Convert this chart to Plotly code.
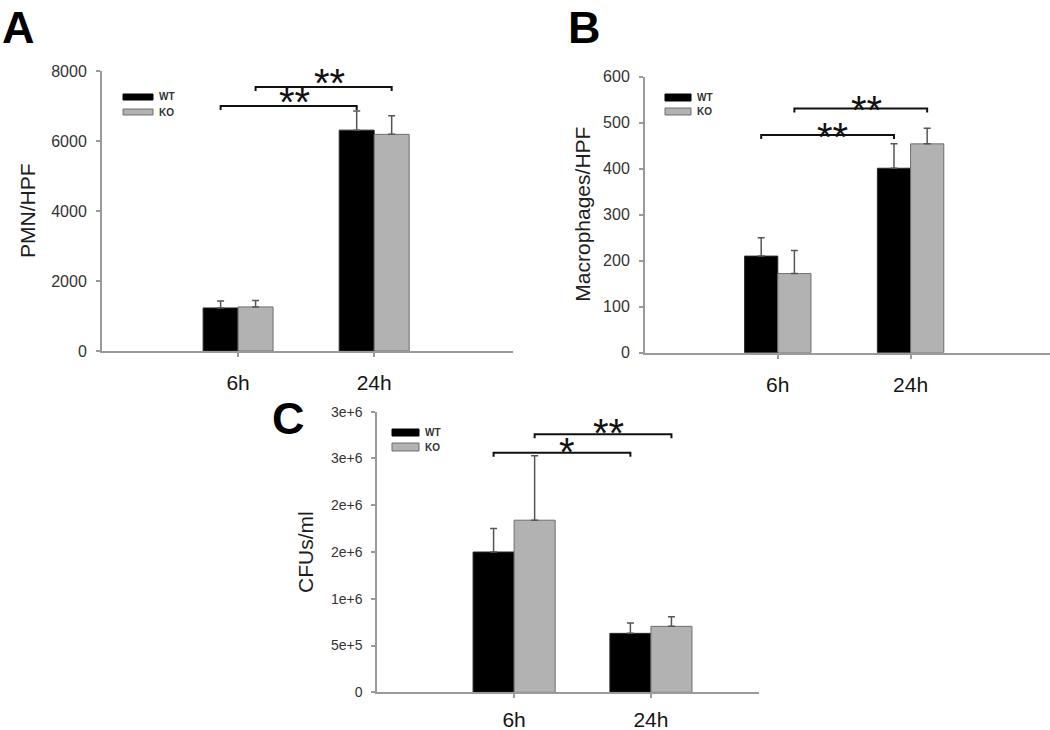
import plotly.graph_objects as go

W, H = 1050, 730

# ---------------- data ----------------
categories = ["6h", "24h"]
cat_pos = [1, 2]
series_names = ["WT", "KO"]

pmn_wt = [1230, 6310]
pmn_wt_sem = [200, 550]
pmn_ko = [1260, 6190]
pmn_ko_sem = [180, 530]

mac_wt = [210, 401]
mac_wt_sem = [40, 53]
mac_ko = [172, 454]
mac_ko_sem = [50, 34]

cfu_wt = [1.50e6, 6.3e5]
cfu_wt_sem = [2.5e5, 1.1e5]
cfu_ko = [1.84e6, 7.05e5]
cfu_ko_sem = [6.9e5, 1.03e5]

pmn_ticks = [0, 2000, 4000, 6000, 8000]
mac_ticks = [0, 100, 200, 300, 400, 500, 600]
cfu_tickvals = [0, 5e5, 1e6, 1.5e6, 2e6, 2.5e6, 3e6]
cfu_ticktext = ["0", "5e+5", "1e+6", "2e+6", "2e+6", "3e+6", "3e+6"]

# significance brackets: (from category idx, to category idx, series, height, label)
pmn_sig = [(0, 1, "WT", 7000, "**"), (0, 1, "KO", 7540, "**")]
mac_sig = [(0, 1, "WT", 473, "**"), (0, 1, "KO", 531, "**")]
cfu_sig = [(0, 1, "WT", 2.56e6, "*"), (0, 1, "KO", 2.76e6, "**")]

# ---------------- style / layout ----------------
FONT = "Liberation Sans, Arial, sans-serif"
WT_COLOR = "#000000"
KO_COLOR = "#b2b2b2"
AXIS_COLOR = "#9a9a9a"


def fx(px):
    return px / W


def fy(py):
    return 1 - py / H


panels = [
    dict(letter="A", xa="x", ya="y", xid="xaxis", yid="yaxis",
         xdom=(102, 513), ydom=(351, 71), xmax=3.02, ymax=8000,
         wt=pmn_wt, wt_sem=pmn_wt_sem, ko=pmn_ko, ko_sem=pmn_ko_sem,
         ticks=pmn_ticks, ticktext=None, tickfont=16, bw=0.257, xstand=8,
         title="PMN/HPF", title_x=28, title_size=21,
         letter_xy=(18, None), legend=(123, 153, 94, 100, 109, 115),
         sig=pmn_sig, star_shift=-20),
    dict(letter="B", xa="x2", ya="y2", xid="xaxis2", yid="yaxis2",
         xdom=(645, 1050), ydom=(352.7, 76.7), xmax=3.05, ymax=600,
         wt=mac_wt, wt_sem=mac_wt_sem, ko=mac_ko, ko_sem=mac_ko_sem,
         ticks=mac_ticks, ticktext=None, tickfont=16, bw=0.25, xstand=8,
         title="Macrophages/HPF", title_x=583, title_size=21,
         letter_xy=(584, 28), legend=(665, 691, 94, 101, 108, 115),
         sig=mac_sig, star_shift=-26),
    dict(letter="C", xa="x3", ya="y3", xid="xaxis3", yid="yaxis3",
         xdom=(377.3, 759), ydom=(692.3, 411.7), xmax=2.79, ymax=3e6,
         wt=cfu_wt, wt_sem=cfu_wt_sem, ko=cfu_ko, ko_sem=cfu_ko_sem,
         ticks=cfu_tickvals, ticktext=cfu_ticktext, tickfont=14, bw=0.30, xstand=3,
         title="CFUs/ml", title_x=305, title_size=21,
         letter_xy=(288, 418), legend=(392, 419, 429, 436, 443, 451),
         sig=cfu_sig, star_shift=-23),
]

fig = go.Figure()
shapes = []
annotations = []
layout = {}

for p in panels:
    bw = p["bw"]
    err_style = dict(type="data", symmetric=False, color="#555555",
                     thickness=1.5, width=3.5)
    fig.add_trace(go.Bar(
        x=cat_pos, y=p["wt"], width=bw, offset=-bw, name=series_names[0],
        marker=dict(color=WT_COLOR, line=dict(color="#2a2a2a", width=1)),
        error_y=dict(array=p["wt_sem"], arrayminus=[0] * len(p["wt"]), **err_style),
        xaxis=p["xa"], yaxis=p["ya"], showlegend=False))
    fig.add_trace(go.Bar(
        x=cat_pos, y=p["ko"], width=bw, offset=0, name=series_names[1],
        marker=dict(color=KO_COLOR, line=dict(color="#6e6e6e", width=1)),
        error_y=dict(array=p["ko_sem"], arrayminus=[0] * len(p["ko"]), **err_style),
        xaxis=p["xa"], yaxis=p["ya"], showlegend=False))

    x0, x1 = p["xdom"]
    yb, yt = p["ydom"]
    layout[p["xid"]] = dict(
        domain=[fx(x0), min(fx(x1), 1.0)], range=[0, p["xmax"]], anchor=p["ya"],
        automargin=False,
        showline=True, linecolor=AXIS_COLOR, linewidth=2,
        ticks="outside", ticklen=4, tickcolor=AXIS_COLOR, tickwidth=1.5,
        tickvals=cat_pos, ticktext=categories, ticklabelstandoff=p["xstand"],
        tickfont=dict(family=FONT, size=21, color="#151515"),
        showgrid=False, zeroline=False, fixedrange=True)
    yax = dict(
        domain=[fy(yb), fy(yt)], range=[0, p["ymax"]], anchor=p["xa"],
        automargin=False,
        showline=True, linecolor=AXIS_COLOR, linewidth=2,
        ticks="outside", ticklen=4, tickcolor=AXIS_COLOR, tickwidth=1.5,
        tickvals=p["ticks"], ticklabelstandoff=6,
        tickfont=dict(family=FONT, size=p["tickfont"], color="#333333"),
        showgrid=False, zeroline=False, fixedrange=True)
    if p["ticktext"] is not None:
        yax["ticktext"] = p["ticktext"]
    layout[p["yid"]] = yax

    # y-axis title
    annotations.append(dict(
        text=p["title"], textangle=-90, xref="paper", yref="paper",
        x=fx(p["title_x"]), y=fy((yb + yt) / 2), xanchor="center", yanchor="middle",
        showarrow=False, font=dict(family=FONT, size=p["title_size"], color="#1e1e1e")))
    # panel letter
    lx, ly = p["letter_xy"]
    letter = dict(
        text="<b>%s</b>" % p["letter"], xref="paper", yref="paper",
        x=fx(lx), xanchor="center", showarrow=False,
        font=dict(family=FONT, size=45, color="#000000"))
    if ly is None:
        letter.update(y=1, yanchor="top")
    else:
        letter.update(y=fy(ly), yanchor="middle")
    annotations.append(letter)

    # legend swatches
    sx0, sx1, wy0, wy1, ky0, ky1 = p["legend"]
    for (c, lc, ya0, ya1, name) in [(WT_COLOR, "#000000", wy0, wy1, series_names[0]),
                                     (KO_COLOR, "#6e6e6e", ky0, ky1, series_names[1])]:
        shapes.append(dict(type="rect", xref="paper", yref="paper",
                           x0=fx(sx0), x1=fx(sx1), y0=fy(ya1), y1=fy(ya0),
                           fillcolor=c, line=dict(color=lc, width=1)))
        annotations.append(dict(
            text="<b>%s</b>" % name, xref="paper", yref="paper",
            x=fx(sx1 + 4), y=fy((ya0 + ya1) / 2), xanchor="left", yanchor="middle",
            showarrow=False, font=dict(family=FONT, size=10, color="#333333")))

    # significance brackets
    px_per_unit = (yb - yt) / p["ymax"]
    tick = 4 / px_per_unit
    for (ci, cj, ser, yv, lab) in p["sig"]:
        off = -bw / 2 if ser == "WT" else bw / 2
        xa_ = cat_pos[ci] + off
        xb_ = cat_pos[cj] + off
        shapes.append(dict(
            type="path", xref=p["xa"], yref=p["ya"],
            path="M %f,%f L %f,%f L %f,%f L %f,%f" % (xa_, yv - tick, xa_, yv, xb_, yv, xb_, yv - tick),
            line=dict(color="#111111", width=2)))
        annotations.append(dict(
            text=lab, xref=p["xa"], yref=p["ya"], x=(xa_ + xb_) / 2 + 0.04, y=yv,
            xanchor="center", yanchor="bottom", yshift=p["star_shift"],
            showarrow=False, font=dict(family=FONT, size=40, color="#111111")))

fig.update_layout(
    width=W, height=H, margin=dict(l=0, r=0, t=0, b=0, autoexpand=False),
    paper_bgcolor="white", plot_bgcolor="white",
    barmode="overlay", showlegend=False,
    shapes=shapes, annotations=annotations, **layout)

fig.write_html("out.html", config={"displayModeBar": False},
               post_script="document.body.style.margin='0';")
